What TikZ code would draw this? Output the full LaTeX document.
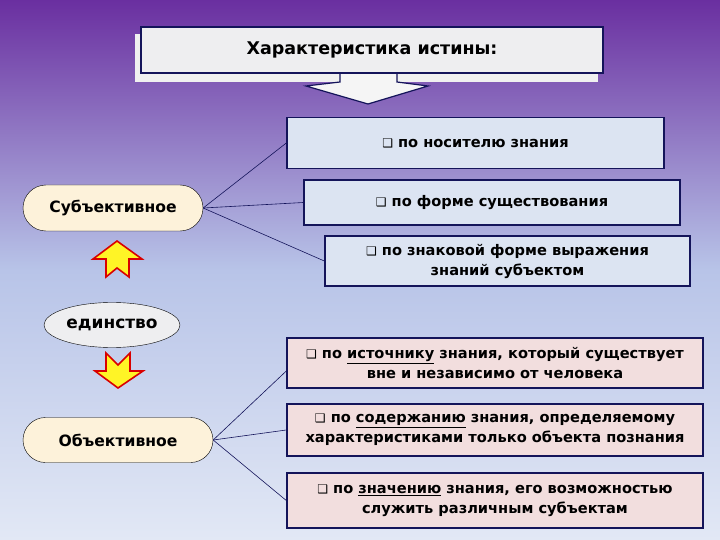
\documentclass[tikz,border=0pt]{standalone}
\usepackage{fontspec}
\setmainfont{DejaVu Sans}
\usetikzlibrary{shapes.geometric,shapes.misc}
\definecolor{navy}{HTML}{14145A}
\definecolor{bgtop}{HTML}{6A2FA0}
\definecolor{bgmid}{HTML}{B8C4E8}
\definecolor{bgbot}{HTML}{E2E8F5}
\definecolor{itemblue}{HTML}{DCE4F2}
\definecolor{itempink}{HTML}{F2DEDE}
\definecolor{cream}{HTML}{FDF2DA}
\definecolor{paper}{HTML}{EEEEF0}
\newcommand{\itembox}{{\fontsize{12}{12}\selectfont ❑}\ }
\tikzstyle{blueitem} = [rectangle, draw=navy, line width=1.4pt, fill=itemblue, align=center, inner sep=0pt, font=\bfseries\fontsize{14.6}{20}\selectfont]
\tikzstyle{pinkitem} = [blueitem, fill=itempink]
\tikzstyle{pill} = [rounded rectangle, draw=black, thin, fill=cream, inner sep=0pt, font=\bfseries\fontsize{15.6}{18}\selectfont]
\tikzstyle{unity} = [ellipse, draw=black, thin, fill=paper, inner sep=0pt, minimum width=136pt, minimum height=45pt, font=\bfseries\fontsize{17}{19}\selectfont]
\tikzstyle{link} = [draw=navy, line width=0.6pt]
\tikzstyle{yarrow} = [fill=yellow!85!white, draw=red!85!black, line width=1.6pt, line join=miter]

\begin{document}
\begin{tikzpicture}[x=1pt, y=-1pt]
  \useasboundingbox (0,0) rectangle (720,540);
  \shade[top color=bgtop, bottom color=bgmid] (0,0) rectangle (720,270);
  \shade[top color=bgmid, bottom color=bgbot] (0,270) rectangle (720,540);

  % title with arrow
  \fill[gray!12] (135,34) rectangle (598,82);
  \filldraw[fill=gray!8, draw=navy, line width=1.2pt] (340,73) -- (340,82) -- (306,86) -- (368,104) -- (428,86) -- (397,82) -- (397,73);
  \node (title)[rectangle, draw=navy, line width=1.4pt, fill=paper, minimum width=462pt, minimum height=46pt, font=\bfseries\fontsize{17.5}{19}\selectfont] at (372,50) {Характеристика истины:};

  % left side
  \node (subj)[pill, minimum width=180pt, minimum height=46pt] at (113,208) {Субъективное};
  \node (unit)[unity] at (112,325) {единство};
  \node (obj)[pill, minimum width=190pt, minimum height=45pt] at (118,440) {Объективное};
  \draw[yarrow] (117,241) -- (142,259) -- (129,259) -- (129,277) -- (117,268) -- (106,277) -- (106,259) -- (93,259) -- cycle;
  \draw[yarrow] (106,353) -- (118,365) -- (130,353) -- (130,371) -- (143,371) -- (118,388) -- (95,371) -- (106,371) -- cycle;

  % subjective items
  \node (b1)[blueitem, minimum width=377pt, minimum height=51pt] at (475.5,143) {\itembox по носителю знания};
  \node (b2)[blueitem, minimum width=376pt, minimum height=45pt] at (492,202.5) {\itembox по форме существования};
  \node (b3)[blueitem, minimum width=365pt, minimum height=50pt] at (507.5,261) {\itembox по знаковой форме выражения\\знаний субъектом};

  % objective items
  \node (b4)[pinkitem, minimum width=416pt, minimum height=50pt] at (495,363) {\itembox по \underline{источнику} знания, который существует\\вне и независимо от человека};
  \node (b5)[pinkitem, minimum width=416pt, minimum height=52pt] at (495,430) {\itembox по \underline{содержанию} знания, определяемому\\характеристиками только объекта познания};
  \node (b6)[pinkitem, minimum width=416pt, minimum height=55pt] at (495,500.5) {\itembox по \underline{значению} знания, его возможностью\\служить различным субъектам};

  \draw[link] (subj.east) -- (b1.west);
  \draw[link] (subj.east) -- (b2.west);
  \draw[link] (subj.east) -- (b3.west);
  \draw[link] (obj.east) -- ([yshift=-8pt]b4.west);
  \draw[link] (obj.east) -- (b5.west);
  \draw[link] (obj.east) -- (b6.west);
\end{tikzpicture}
\end{document}
